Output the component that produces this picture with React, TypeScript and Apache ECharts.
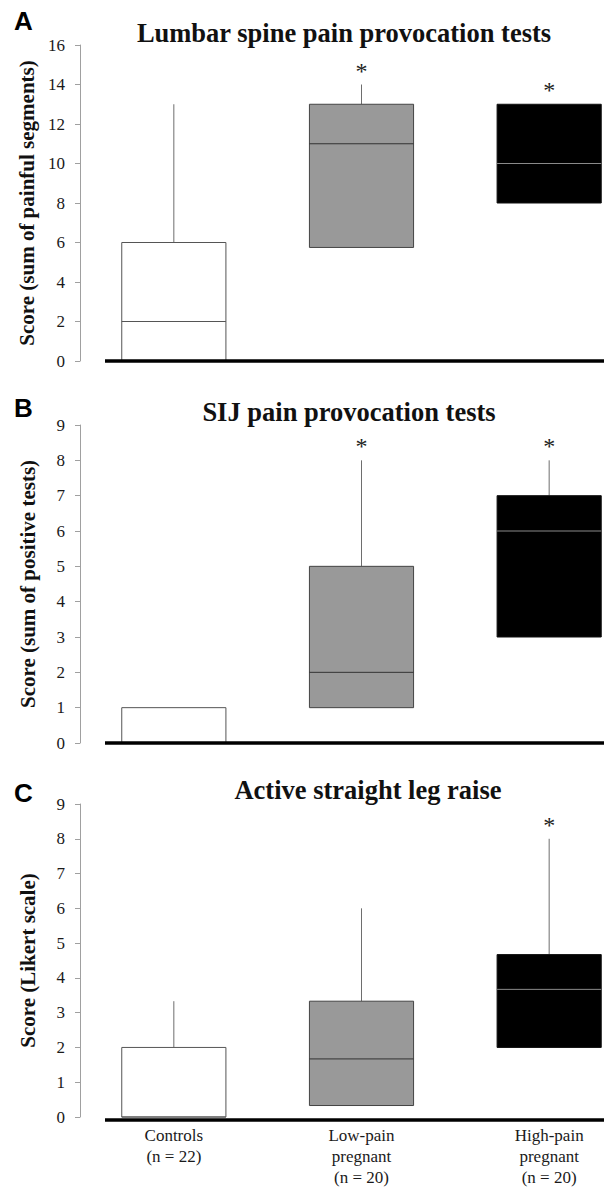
import React, { useEffect, useRef } from "react";
import * as echarts from "echarts";

// ---------- data ----------
const categories = [
  "Controls\n(n = 22)",
  "Low-pain\npregnant\n(n = 20)",
  "High-pain\npregnant\n(n = 20)",
];

// [min, Q1, median, Q3, max]
const lumbarBoxes = [
  [0, 0, 2, 6, 13],
  [1, 5.75, 11, 13, 14],
  [0, 8, 10, 13, 13],
];
const lumbarSig = [false, true, true];

const sijBoxes = [
  [0, 0, 0, 1, 1],
  [0, 1, 2, 5, 8],
  [0, 3, 6, 7, 8],
];
const sijSig = [false, true, true];

const aslrBoxes = [
  [0, 0, 0, 2, 3.33],
  [0, 0.33, 1.67, 3.33, 6],
  [0, 2, 3.67, 4.67, 8],
];
const aslrSig = [false, false, true];

const panelTitles = [
  "Lumbar spine pain provocation tests",
  "SIJ pain provocation tests",
  "Active straight leg raise",
];
const panelLetters = ["A", "B", "C"];
const yNames = [
  "Score (sum of painful segments)",
  "Score (sum of positive tests)",
  "Score (Likert scale)",
];
const yMax = [16, 9, 9];
const yInterval = [2, 1, 1];

// ---------- styles ----------
const SERIF = "'Liberation Serif', 'Times New Roman', serif";
const SANS = "'Liberation Sans', Arial, sans-serif";
const boxFill = ["#ffffff", "#999999", "#000000"];
const boxStroke = ["#555555", "#444444", "#111111"];
const medianStroke = ["#555555", "#333333", "#8a8a8a"];
const whiskerStroke = "#6e6e6e";

const CHART_W = 642.5;
const gridTops = [45, 425, 804];
const gridHeights = [316, 318, 316];
const titleCenters = [339, 344, 363];
const titleTops = [14, 393, 771];
const letterTops = [8, 395, 780];

export default function App() {
  const ref = useRef<HTMLDivElement>(null);

  useEffect(() => {
    if (!ref.current) return;
    const chart = echarts.init(ref.current, undefined, { renderer: "svg" });

    const allBoxes = [lumbarBoxes, sijBoxes, aslrBoxes];
    const allSig = [lumbarSig, sijSig, aslrSig];

    const renderItem = (sig: boolean[]) => (params: any, api: any) => {
      const idx = api.value(0) as number;
      const mn = api.coord([idx, api.value(1)]);
      const q1 = api.coord([idx, api.value(2)]);
      const md = api.coord([idx, api.value(3)]);
      const q3 = api.coord([idx, api.value(4)]);
      const mx = api.coord([idx, api.value(5)]);
      const cx = mn[0];
      const bw = api.size([1, 0])[0] * 0.555;
      const children: any[] = [];
      if (q1[1] - mn[1] > 0.5) {
        children.push({
          type: "line",
          shape: { x1: cx, y1: mn[1], x2: cx, y2: q1[1] },
          style: { stroke: whiskerStroke, lineWidth: 1 },
        });
      }
      if (q3[1] - mx[1] > 0.5) {
        children.push({
          type: "line",
          shape: { x1: cx, y1: q3[1], x2: cx, y2: mx[1] },
          style: { stroke: whiskerStroke, lineWidth: 1 },
        });
      }
      children.push({
        type: "rect",
        shape: { x: cx - bw / 2, y: q3[1], width: bw, height: q1[1] - q3[1] },
        style: { fill: boxFill[idx], stroke: boxStroke[idx], lineWidth: 1 },
      });
      children.push({
        type: "line",
        shape: { x1: cx - bw / 2, y1: md[1], x2: cx + bw / 2, y2: md[1] },
        style: { stroke: medianStroke[idx], lineWidth: 1 },
      });
      if (sig[idx]) {
        children.push({
          type: "text",
          x: cx,
          y: mx[1] - 14,
          style: {
            text: "*",
            fontSize: 24,
            fontFamily: SERIF,
            fill: "#222",
            align: "center",
            verticalAlign: "middle",
          },
        });
      }
      return { type: "group", children };
    };

    const grids = gridTops.map((top, i) => ({
      left: 80,
      right: 0,
      top,
      height: gridHeights[i],
    }));

    const xAxes = gridTops.map((_, i) => ({
      type: "category",
      gridIndex: i,
      data: categories,
      boundaryGap: true,
      axisLine: { show: false },
      axisTick: { show: false },
      axisLabel: {
        show: i === 2,
        interval: 0,
        fontFamily: SERIF,
        fontSize: 17,
        lineHeight: 21,
        color: "#1a1a1a",
        margin: 8,
      },
      splitLine: { show: false },
    }));

    const yAxes = gridTops.map((_, i) => ({
      type: "value",
      gridIndex: i,
      min: 0,
      max: yMax[i],
      interval: yInterval[i],
      name: yNames[i],
      nameLocation: "middle",
      nameGap: 42,
      nameTextStyle: {
        fontFamily: SERIF,
        fontWeight: "bold",
        fontSize: 21,
        color: "#111",
      },
      axisLine: { show: true, lineStyle: { color: "#a0a0a0", width: 1 } },
      axisTick: { show: true, length: 5, lineStyle: { color: "#a0a0a0" } },
      axisLabel: {
        fontFamily: SERIF,
        fontSize: 17,
        color: "#1a1a1a",
        margin: 15,
      },
      splitLine: { show: false },
    }));

    const series = allBoxes.map((boxes, i) => ({
      type: "custom",
      xAxisIndex: i,
      yAxisIndex: i,
      encode: { x: 0, y: [1, 2, 3, 4, 5] },
      data: boxes.map((b, k) => [k, ...b]),
      renderItem: renderItem(allSig[i]),
      clip: false,
      z: 2,
    }));

    const titles = panelTitles.map((t, i) => ({
      text: t,
      left: titleCenters[i],
      top: titleTops[i],
      textAlign: "center",
      textStyle: {
        fontFamily: SERIF,
        fontWeight: "bold",
        fontSize: 26.5,
        color: "#111",
      },
    }));

    const baselineYs = gridTops.map((t, i) => t + gridHeights[i]);
    const graphic: any[] = [];
    panelLetters.forEach((l, i) => {
      graphic.push({
        type: "text",
        left: 14,
        top: letterTops[i],
        style: {
          text: l,
          fontFamily: SANS,
          fontWeight: "bold",
          fontSize: 26,
          fill: "#000",
        },
      });
      graphic.push({
        type: "line",
        shape: { x1: 105, y1: baselineYs[i], x2: CHART_W, y2: baselineYs[i] },
        style: { stroke: "#000", lineWidth: 3.5 },
        z: 100,
      });
    });

    chart.setOption({
      animation: false,
      backgroundColor: "#ffffff",
      title: titles,
      grid: grids,
      xAxis: xAxes,
      yAxis: yAxes,
      series,
      graphic,
    });

    return () => chart.dispose();
  }, []);

  return (
    <div
      style={{
        position: "absolute",
        left: 0,
        top: 0,
        width: 604,
        height: 1188,
        overflow: "hidden",
        background: "#fff",
      }}
    >
      <div ref={ref} style={{ width: CHART_W, height: 1188 }} />
    </div>
  );
}
